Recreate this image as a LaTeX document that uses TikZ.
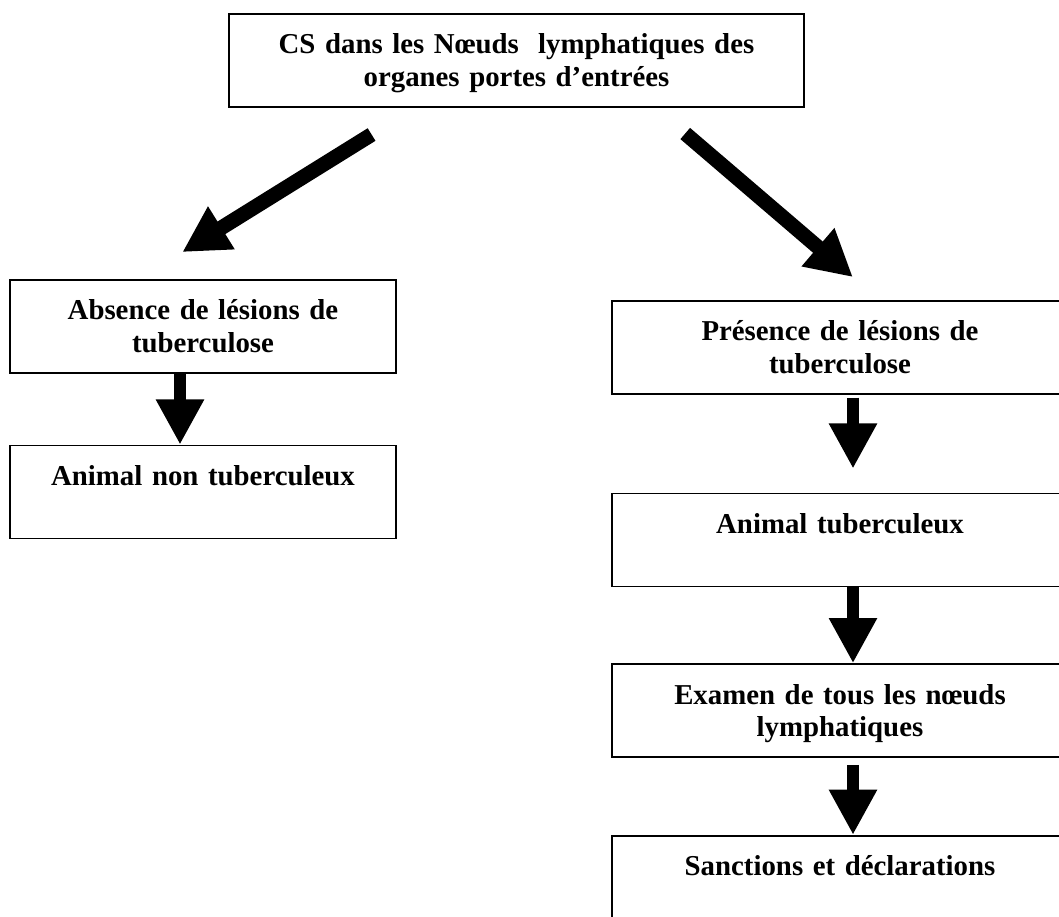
\documentclass[tikz,border=0pt]{standalone}
\usepackage{fontspec}
\setmainfont{Liberation Serif}
\usetikzlibrary{positioning}
\usetikzlibrary{arrows.meta}

\newcommand{\lignes}[2]{\rule{0pt}{28.4pt}#1\\#2\rule[-14.7pt]{0pt}{14.7pt}}

\begin{document}
\begin{tikzpicture}[box/.style={draw,line width=1.2pt,inner sep=0pt,align=center,text width=#1,
		font=\bfseries\fontsize{20.5}{23}\selectfont},
	fleche/.style={line width=0.28cm,-{Triangle[width=1.13cm,length=1.13cm]}},
	diag/.style={line width=0.37cm,-{Triangle[width=1.18cm,length=1.15cm]}}]
		\useasboundingbox (0,0) rectangle (26.475,-22.925);
		\node[box=14.375cm,anchor=north] (cs) at (12.9125,-0.325)
			{\lignes{CS dans les Nœuds~ lymphatiques des}{organes portes d’entrées}};
		\node[box=9.65cm,anchor=north] (absence) at (5.075,-6.975)
			{\lignes{Absence de lésions de}{tuberculose}};
		\node[box=9.65cm] (non_tub) [below=1.775cm of absence]
			{\lignes{Animal non tuberculeux}{}};
		\node[box=11.4cm,anchor=north] (presence) at (21.0,-7.5)
			{\lignes{Présence de lésions de}{tuberculose}};
		\node[box=11.4cm] (tub) [below=2.45cm of presence]
			{\lignes{Animal tuberculeux}{}};
		\node[box=11.4cm] (examen) [below=1.9cm of tub]
			{\lignes{Examen de tous les nœuds}{lymphatiques}};
		\node[box=11.4cm] (sanctions) [below=1.925cm of examen]
			{\lignes{Sanctions et déclarations}{}};
		\path
		([xshift=-2.54cm]cs.south) edge [diag,shorten <=1.275cm,shorten >=1.275cm] ([xshift=-1.6cm]absence.north)
		([xshift=3.4625cm]cs.south) edge [diag,shorten <=0.995cm,shorten >=0.88cm] ([xshift=0.99cm]presence.north)
		([xshift=-0.575cm]absence.south) edge [fleche] ([xshift=-0.575cm]non_tub.north)
		([xshift=0.325cm]presence.south) edge [fleche,shorten <=0.075cm,shorten >=0.6cm] ([xshift=0.325cm]tub.north)
		([xshift=0.325cm]tub.south) edge [fleche] ([xshift=0.325cm]examen.north)
		([xshift=0.325cm]examen.south) edge [fleche,shorten <=0.175cm] ([xshift=0.325cm]sanctions.north)
		;
	\end{tikzpicture}
\end{document}
